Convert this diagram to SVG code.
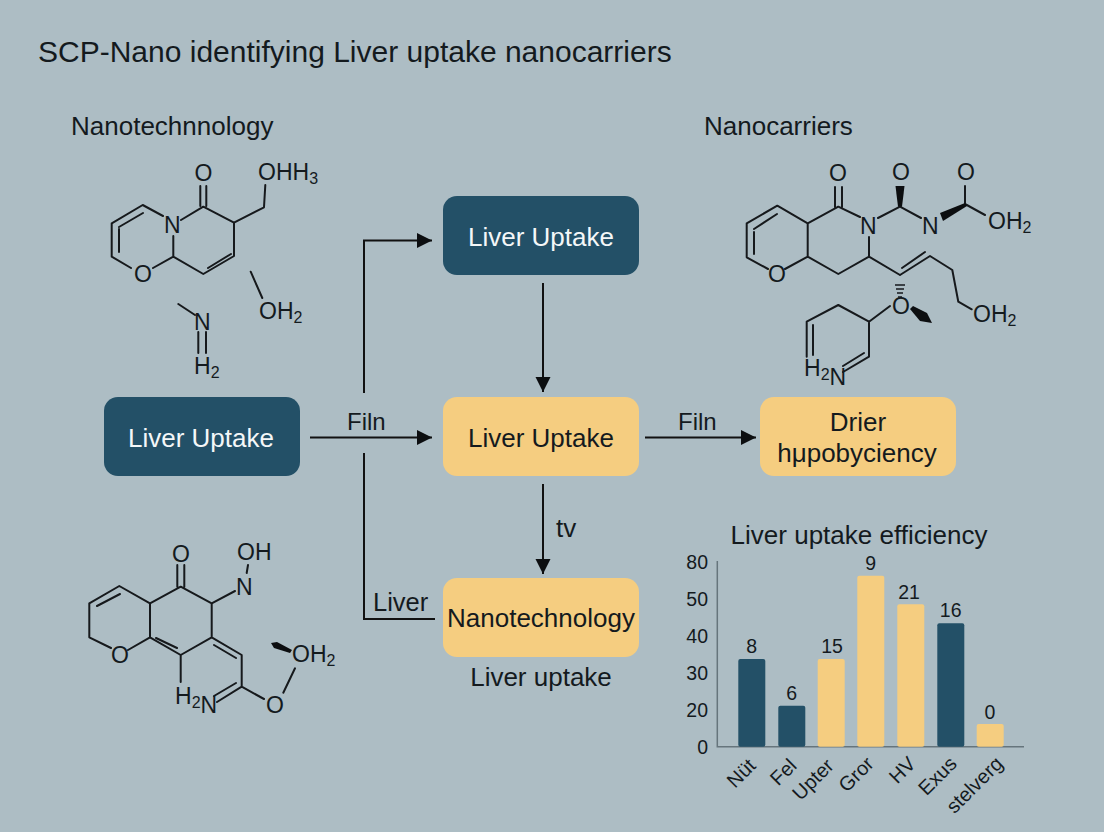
<svg xmlns="http://www.w3.org/2000/svg" width="1104" height="832" viewBox="0 0 1104 832">
<style>
text{font-family:"Liberation Sans",Arial,sans-serif;fill:#141a1e}
.n{fill:#f4f7f8}
.t{font-size:26px;text-anchor:middle}
.h{font-size:26px}
.a{font-size:24px}
.c{font-size:23px}
.v{font-size:19.5px;text-anchor:middle}
.y{font-size:19.5px;text-anchor:end}
.x{font-size:20px;text-anchor:end}
.b{fill:none;stroke:#16191c;stroke-width:2;stroke-linejoin:round;stroke-linecap:round}
.l{fill:none;stroke:#111;stroke-width:2}
.w{fill:#0c0e10}
.navy{fill:#235067}
.yel{fill:#f5cd80}
.ax{fill:none;stroke:#66757c;stroke-width:1.5}
tspan.s{font-size:16px}
</style>
<defs>
<marker id="arr" markerUnits="userSpaceOnUse" markerWidth="16" markerHeight="16" refX="15" refY="8" orient="auto"><path d="M0,0.5L15,8L0,15.5Z" fill="#0c0e10"/></marker>
</defs>
<rect width="1104" height="832" fill="#adbdc4"/>
<text x="38" y="62" font-size="30">SCP-Nano identifying Liver uptake nanocarriers</text>
<text class="h" x="71" y="135">Nanotechnnology</text>
<text class="h" x="704" y="135">Nanocarriers</text>
<g id="connectors">
<path class="l" d="M310,437.500H432" marker-end="url(#arr)"/>
<path class="l" d="M364,393V240.500H432" marker-end="url(#arr)"/>
<path class="l" d="M364,453V619H435"/>
<path class="l" d="M543,283V392" marker-end="url(#arr)"/>
<path class="l" d="M543,484V574" marker-end="url(#arr)"/>
<path class="l" d="M645,437.500H756" marker-end="url(#arr)"/>
<text class="a" x="347" y="430">Filn</text>
<text class="a" x="678" y="430">Filn</text>
<text x="556" y="537" font-size="26">tv</text>
<text x="373" y="611" font-size="25.500">Liver</text>
</g>
<g id="node-top"><rect class="navy" x="443" y="196" width="196" height="79" rx="14"/><text class="t n" x="541" y="246">Liver Uptake</text></g>
<g id="node-left"><rect class="navy" x="104" y="397" width="196" height="79" rx="14"/><text class="t n" x="201" y="447">Liver Uptake</text></g>
<g id="node-center"><rect class="yel" x="443" y="397" width="196" height="79" rx="14"/><text class="t" x="541" y="447">Liver Uptake</text></g>
<g id="node-bottom"><rect class="yel" x="443" y="578" width="196" height="79" rx="14"/><text class="t" x="541" y="627">Nanotechnology</text></g>
<text class="t" x="541" y="686">Liver uptake</text>
<g id="node-right"><rect class="yel" x="760" y="397" width="196" height="79" rx="14"/><text class="t" x="858" y="431">Drier</text><text class="t" x="857" y="462">hμpobyciency</text></g>
<g id="molecule-1">
<path class="b" d="M163,216L142.700,205L111.700,223.300V256.700L131,268M153,268L173.300,256.700V236M181,220L203.300,206.700L234,222.700V256L203.300,274L173.300,256.700M119,227L143,213M119,229V252M208,268L231,254M234,222.700L264,207.300L265.300,185M200.300,206V186M206.300,206V186M250.700,271.700L262.300,298M178.300,304L195,315M198.300,332V353M206,332V353"/>
<text class="c" x="194.500" y="181">O</text><text class="c" x="258" y="180">OHH<tspan class="s" dy="4">3</tspan></text>
<text class="c" x="164" y="233">N</text><text class="c" x="134" y="282">O</text>
<text class="c" x="259" y="319">OH<tspan class="s" dy="4">2</tspan></text>
<text class="c" x="194" y="330">N</text><text class="c" x="194" y="374">H<tspan class="s" dy="4">2</tspan></text>
</g>
<g id="molecule-2">
<path class="b" d="M860,217L838.300,206.700L807.700,223.300L777.300,205.700L746.700,223.300V257.300L768,269M785,269L807.700,256.700V223.300M807.700,256.700L838.300,274L869,256.700V237M754,229L777,214M754,232V254M835,207V187M842,207V187M878,218L900,206.700L921,218M900,275L869,256.700M900,275L930,256L952.300,270L958.300,301.700L971.700,309.300M902,268L925,252M965,204L985,215M965,204V186M890,306L869,321.700L838.300,305L806.700,321.700V356.700M869,321.700V356.700L843,372M813,325V355M864,353L843,366"/>
<path class="w" d="M895.500,186H904.500L902,206.700H898Z"/>
<path class="w" d="M940,213L965,203L967,206L943,221Z"/>
<path class="w" d="M910,309L913,306L927,313L932,323L920,321Z"/>
<path d="M895,285H905M896,289H904M897,293H903M898,297H902" stroke="#16191c" stroke-width="1.500" fill="none"/>
<text class="c" x="829" y="181">O</text><text class="c" x="892" y="180">O</text><text class="c" x="957" y="180">O</text>
<text class="c" x="860" y="234">N</text><text class="c" x="922" y="234">N</text>
<text class="c" x="988" y="229">OH<tspan class="s" dy="4">2</tspan></text>
<text class="c" x="768" y="282">O</text><text class="c" x="892" y="314">O</text>
<text class="c" x="973" y="322">OH<tspan class="s" dy="4">2</tspan></text>
<text class="c" x="804" y="376">H<tspan class="s" dy="4">2</tspan><tspan dy="5">N</tspan></text>
</g>
<g id="molecule-3">
<path class="b" d="M111,648L89.300,637.300V603.300L119.300,586L150,603.300V637.300L128,650M150,637.300L180.700,655L211.700,637.300V603.300L180.700,586.700L150,603.300M97,606L120,594M156,638L177,648M177.300,587V565M184.300,587V565M211.700,603.300L235,591M248,565L246.700,573M211.700,637.300L241.700,655V686.700L264,699M214,645L236,658M180.700,655V682M241.700,686.700L217,702M236,683L214,696M283.300,692.700L295,668.300"/>
<path class="w" d="M271,643L277,642L292,650L290,653L274,648Z"/>
<text class="c" x="172" y="562">O</text><text class="c" x="237" y="560">OH</text>
<text class="c" x="236" y="595">N</text><text class="c" x="111" y="663">O</text>
<text class="c" x="292" y="662">OH<tspan class="s" dy="4">2</tspan></text>
<text class="c" x="175" y="704">H<tspan class="s" dy="4">2</tspan><tspan dy="5">N</tspan></text>
<text class="c" x="266" y="713">O</text>
</g>
<g id="chart">
<text class="t" x="859" y="544">Liver uptake efficiency</text>
<path class="ax" d="M717.300,561V746.700H1024"/>
<text class="y" x="708" y="569">80</text><text class="y" x="708" y="606">50</text><text class="y" x="708" y="643">40</text><text class="y" x="708" y="680">30</text><text class="y" x="708" y="717">20</text><text class="y" x="708" y="754">0</text>
<rect class="navy" x="738.300" y="659" width="27" height="87.700" rx="2"/>
<rect class="navy" x="778.300" y="705.700" width="27" height="41" rx="2"/>
<rect class="yel" x="817.700" y="659" width="27" height="87.700" rx="2"/>
<rect class="yel" x="857.300" y="575.700" width="27" height="171" rx="2"/>
<rect class="yel" x="897.300" y="604.300" width="27" height="142.400" rx="2"/>
<rect class="navy" x="937.300" y="623.300" width="27" height="123.400" rx="2"/>
<rect class="yel" x="976.700" y="724" width="27" height="22.700" rx="2"/>
<text class="v" x="751.700" y="653">8</text><text class="v" x="791.700" y="700">6</text><text class="v" x="832" y="653">15</text><text class="v" x="870.700" y="570">9</text><text class="v" x="909" y="599">21</text><text class="v" x="950.700" y="617">16</text><text class="v" x="990" y="719">0</text>
<text class="x" transform="translate(757,767) rotate(-45)">Nüt</text>
<text class="x" transform="translate(798,767) rotate(-45)">Fel</text>
<text class="x" transform="translate(835,767) rotate(-45)">Upter</text>
<text class="x" transform="translate(875,765) rotate(-45)">Gror</text>
<text class="x" transform="translate(917,765) rotate(-45)">HV</text>
<text class="x" transform="translate(958,765) rotate(-45)">Exus</text>
<text class="x" transform="translate(1004,765) rotate(-45)">stelverg</text>
</g>
</svg>
